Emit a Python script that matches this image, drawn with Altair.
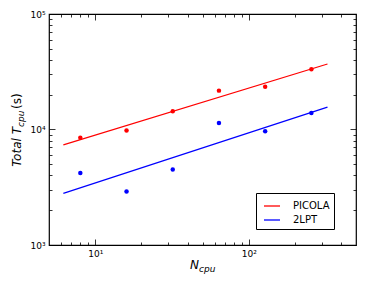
import altair as alt
import pandas as pd

# ---- data ----
n_cpu = [8, 16, 32, 64, 128, 256]
picola_t = [8500, 9800, 14400, 21700, 23500, 33200]
lpt_t = [4200, 2900, 4500, 11400, 9650, 13900]

fit_n = [6.2, 326]
picola_fit = [7350, 36900]
lpt_fit = [2800, 15600]

series_names = ["PICOLA", "2LPT"]
series_colors = ["#ff0000", "#0000ff"]

x_domain = [5, 500]
y_domain = [1000, 100000]
x_major = [10, 100]
x_major_labels = ["10¹", "10²"]
x_minor = [6, 7, 8, 9, 20, 30, 40, 50, 60, 70, 80, 90, 200, 300, 400]
y_major = [1000, 10000, 100000]
y_major_labels = ["10³", "10⁴", "10⁵"]
y_minor = [2000, 3000, 4000, 5000, 6000, 7000, 8000, 9000,
           20000, 30000, 40000, 50000, 60000, 70000, 80000, 90000]

FONT = "DejaVu Sans"

pts = pd.DataFrame({
    "N": n_cpu * 2,
    "T": picola_t + lpt_t,
    "series": [series_names[0]] * len(n_cpu) + [series_names[1]] * len(n_cpu),
})
fits = pd.DataFrame({
    "N": fit_n * 2,
    "T": picola_fit + lpt_fit,
    "series": [series_names[0]] * 2 + [series_names[1]] * 2,
})


def label_expr(vals, labels):
    expr = "''"
    for v, l in zip(reversed(vals), reversed(labels)):
        expr = f"datum.value == {v} ? '{l}' : ({expr})"
    return expr


xs = alt.Scale(type="log", domain=x_domain, nice=False)
ys = alt.Scale(type="log", domain=y_domain, nice=False)
legend = alt.Legend(
    title=None, orient="none", legendX=207, legendY=179,
    strokeColor="black", fillColor="white", padding=4, cornerRadius=0,
    symbolType="stroke", symbolSize=256, symbolStrokeWidth=1.3, symbolOffset=3,
    labelFont=FONT, labelFontSize=10, labelColor="black", labelOffset=12,
    rowPadding=0,
)
color = alt.Color("series:N", scale=alt.Scale(domain=series_names, range=series_colors),
                  legend=legend)

main_x_axis = alt.Axis(orient="bottom", values=x_major, labelExpr=label_expr(x_major, x_major_labels),
                       ticks=False, domain=False, grid=False, title=None,
                       labelFont=FONT, labelFontSize=9, labelColor="black", labelPadding=4)
main_y_axis = alt.Axis(orient="left", values=y_major, labelExpr=label_expr(y_major, y_major_labels),
                       ticks=False, domain=False, grid=False, title=None,
                       labelFont=FONT, labelFontSize=9, labelColor="black", labelPadding=4)

lines = alt.Chart(fits).mark_line(strokeWidth=1.2, clip=True).encode(
    x=alt.X("N:Q", scale=xs, axis=main_x_axis),
    y=alt.Y("T:Q", scale=ys, axis=main_y_axis),
    color=color,
    detail="series:N",
)

points = alt.Chart(pts).mark_circle(size=20, opacity=1).encode(
    x=alt.X("N:Q", scale=xs, axis=None),
    y=alt.Y("T:Q", scale=ys, axis=None),
    color=color,
)


def tick_axis(orient, values, size):
    return alt.Axis(orient=orient, values=values, tickSize=size, offset=-size,
                    labels=False, domain=False, grid=False, title=None,
                    tickColor="black", tickWidth=0.8)


def tick_layer(xo, yo, xv, yv, size):
    return alt.Chart(pts).mark_point(opacity=0).encode(
        x=alt.X("N:Q", scale=xs, axis=tick_axis(xo, xv, size)),
        y=alt.Y("T:Q", scale=ys, axis=tick_axis(yo, yv, size)),
    )


ticks = [
    tick_layer("bottom", "left", x_major, y_major, 6),
    tick_layer("bottom", "left", x_minor, y_minor, 3),
    tick_layer("top", "right", x_major, y_major, 6),
    tick_layer("top", "right", x_minor, y_minor, 3),
]

one = pd.DataFrame({"k": [0]})


def txt(s, x, y, size, align, angle=0):
    return alt.Chart(one).mark_text(
        text=s, font=FONT, fontSize=size, fontStyle="italic" if s != "(s)" else "normal",
        align=align, baseline="alphabetic", angle=angle, color="black",
    ).encode(x=alt.value(x), y=alt.value(y))


titles = [
    txt("N", 150, 255, 12, "right"),
    txt("cpu", 150, 258, 9, "left"),
    txt("Total T", -28, 113, 12, "right", 270),
    txt("cpu", -25, 113, 9, "left", 270),
    txt("(s)", -28, 95, 12, "left", 270),
]

chart = alt.layer(lines, points, *ticks, *titles).resolve_scale(
    x="shared", y="shared", color="shared"
).resolve_axis(x="independent", y="independent").properties(
    width=307, height=231,
    autosize=alt.AutoSizeParams(type="none"),
    padding={"left": 41, "top": 6, "right": 10, "bottom": 34},
).configure_view(stroke="black", strokeWidth=1.2)

chart.save("out.html", embed_options={"renderer": "svg", "actions": False})
